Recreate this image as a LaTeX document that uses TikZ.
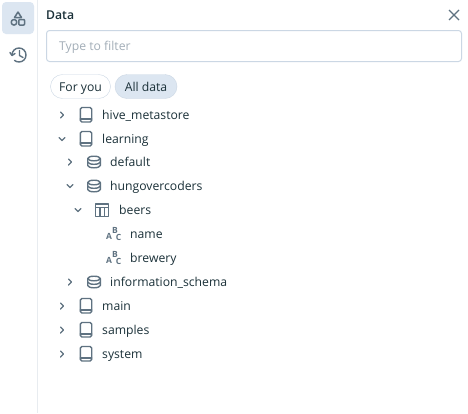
\documentclass[tikz,border=0pt]{standalone}
\usepackage{fontspec}
\setmainfont{Open Sans}
\definecolor{icongray}{HTML}{5F7281}
\definecolor{inktext}{HTML}{1B3139}
\definecolor{hintgray}{HTML}{A3AEB8}
\definecolor{paleblue}{HTML}{DCE6F1}
\definecolor{edgeblue}{HTML}{CBD7E4}
\definecolor{railgray}{HTML}{E8ECF0}
\tikzset{
    rowtext/.style = {anchor=base west, inner sep=0pt, text=inktext, font=\fontsize{12.2}{15}\selectfont},
    chip/.style = {draw=edgeblue, rounded corners=12pt, minimum height=24pt, inner sep=0pt, text=inktext, text height=9.5pt, text depth=0pt, font=\fontsize{12.2}{15}\selectfont},
    iconline/.style = {draw=icongray, line width=1.4pt, line join=round, line cap=round},
    abcletter/.style = {inner sep=0pt, text=icongray, font=\fontsize{8.5}{9}\fontspec{Open Sans Bold}},
    chevopen/.pic = {\draw[iconline] (-3,-1.5) -- (0,1.5) -- (3,-1.5);},
    chevshut/.pic = {\draw[iconline] (-1.5,-3) -- (1.5,0) -- (-1.5,3);},
    bookicon/.pic = {
        \draw[iconline, rounded corners=1.5pt] (-5.7,-7.5) rectangle (5.7,7);
        \draw[iconline] (-5.7,4) -- (5.7,4);
    },
    dbicon/.pic = {
        \draw[iconline] (0,-3.5) ellipse[x radius=6.3pt, y radius=2.3pt];
        \draw[iconline] (-6.3,-3.5) -- (-6.3,3.5) arc[start angle=180, end angle=360, x radius=6.3pt, y radius=2.3pt] -- (6.3,-3.5);
        \draw[iconline] (-6.3,0) arc[start angle=180, end angle=360, x radius=6.3pt, y radius=2.3pt];
    },
    tableicon/.pic = {
        \draw[iconline, line cap=butt] (-6.5,-6) rectangle (6.5,6.5);
        \draw[iconline, line cap=butt] (-6.5,-2.5) -- (6.5,-2.5) (-2.2,-2.5) -- (-2.2,6.5) (2.2,-2.5) -- (2.2,6.5);
    },
    abcicon/.pic = {
        \node[abcletter] (-a) at (-4.5,2) {A};
        \node[abcletter] (-b) at (1.5,-4) {B};
        \node[abcletter] (-c) at (5,3.5) {C};
    },
}
\begin{document}
\begin{tikzpicture}[x=1pt, y=-1pt]
    \useasboundingbox (0,0) rectangle (468,413);
    \fill[white] (0,0) rectangle (468,413);
    % side rail
    \draw[railgray, line width=1pt] (37.5,0) -- (37.5,413);
    \fill[paleblue, rounded corners=4pt] (2,2) rectangle (34,34);
    \draw[iconline, line width=1.5pt] (18,12) -- (21.5,17.5) -- (14.5,17.5) -- cycle;
    \draw[iconline, line width=1.5pt] (14,22.3) circle (2.8pt);
    \draw[iconline, line width=1.5pt, rounded corners=.8pt] (18.8,19.5) rectangle (24.5,25);
    \draw[iconline] (12,55) arc[start angle=180, end angle=-130, radius=7pt];
    \draw[iconline] (10,52.5) -- (12,55.5) -- (15,53.5);
    \draw[iconline] (19.5,50.5) -- (19.5,55.5) -- (23,57.5);
    % header
    \node[rowtext, font=\fontsize{12.2}{15}\fontspec{Open Sans Semibold}] (title) at (46,19.5) {Data};
    \coordinate (closea) at (449,10);
    \coordinate (closeb) at (459,20);
    \coordinate (closec) at (459,10);
    \coordinate (closed) at (449,20);
    \draw[icongray, line width=1.2pt] (closea) -- (closeb) (closec) -- (closed);
    \draw[edgeblue, line width=1pt, rounded corners=3pt] (46.5,30.5) rectangle (461.5,61.5);
    \node[rowtext, text=hintgray] (filter) at (59,50.5) {Type to filter};
    \node[chip, minimum width=60pt] (foryou) at (80.5,86.5) {For you};
    \node[chip, minimum width=62pt, fill=paleblue] (alldata) at (146,86.5) {All data};
    % tree rows: chevron x, state, icon x, icon, text x, y, name, text
    \foreach \cx/\st/\ix/\ic/\tx/\ry/\rn/\rt in {
        62/chevshut/86/bookicon/102/115/hive/hive\_metastore,
        62/chevopen/86/bookicon/102/139/learning/learning,
        70/chevshut/94/dbicon/110/162/default/default,
        70/chevopen/94/dbicon/110/186/hungover/hungovercoders,
        78/chevopen/102/tableicon/119/210/beers/beers,
        70/chevshut/94/dbicon/110/282/infoschema/information\_schema,
        62/chevshut/86/bookicon/102/306/main/main,
        62/chevshut/86/bookicon/102/330/samples/samples,
        62/chevshut/86/bookicon/102/354/system/system} {
        \pic at (\cx,\ry) {\st};
        \pic at (\ix,\ry) {\ic};
        \node[rowtext] (\rn) at (\tx,\ry+4.5) {\rt};
    }
    \foreach \ry/\rn/\rt in {234/colname/name, 258/colbrewery/brewery} {
        \pic (\rn icon) at (113.5,\ry) {abcicon};
        \node[rowtext] (\rn) at (130,\ry+4.5) {\rt};
    }
\end{tikzpicture}
\end{document}
